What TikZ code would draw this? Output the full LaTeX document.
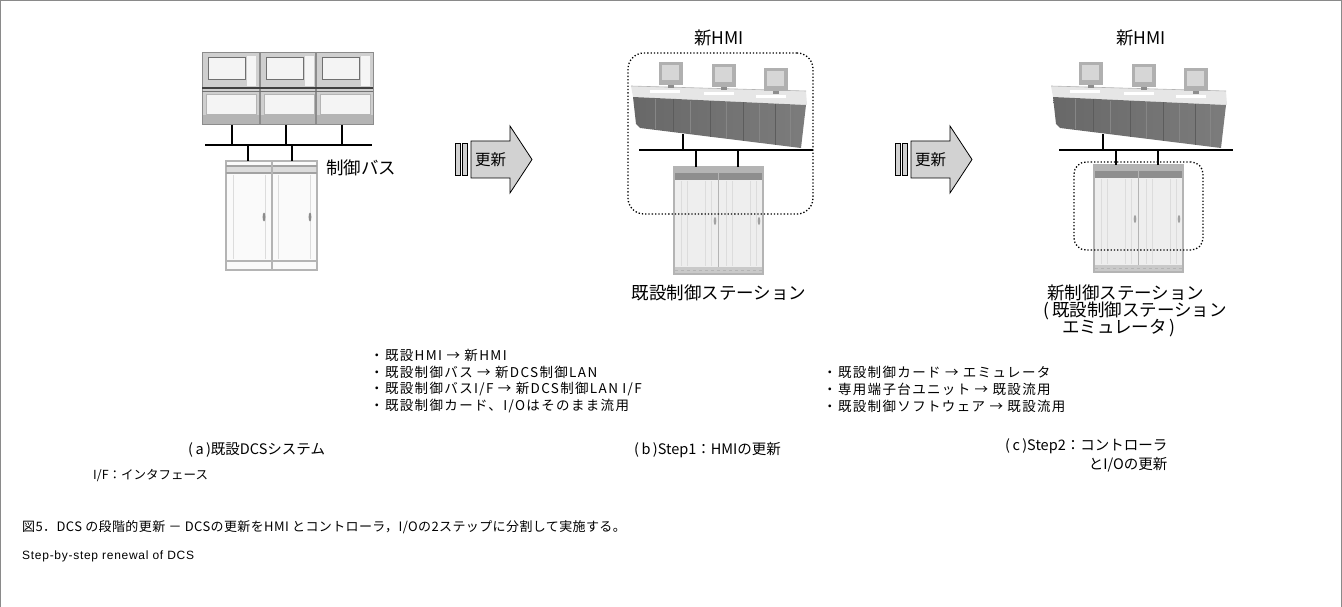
\documentclass[tikz,border=0pt]{standalone}
\usepackage{fontspec}
\setmainfont{Noto Sans CJK JP}
\newfontfamily\bulfamily[LetterSpace=10]{Noto Sans CJK JP}
\newfontfamily\widefamily[LetterSpace=3]{Noto Sans CJK JP}
\newfontfamily\latinwide[LetterSpace=6]{Liberation Sans}
\usetikzlibrary{calc}

\definecolor{framegray}{HTML}{8A8A8A}
\definecolor{arrowgray}{HTML}{D2D2D2}
\definecolor{panelgray}{HTML}{CFCFCF}
\definecolor{paneledge}{HTML}{8C8C8C}
\definecolor{screenlight}{HTML}{F4F4F4}
\definecolor{cabfill}{HTML}{EEEEEE}
\definecolor{cabedge}{HTML}{B4B4B4}
\definecolor{cabband}{HTML}{8E8E8E}
\definecolor{cabstripe}{HTML}{DCDCDC}
\definecolor{deskfront}{HTML}{7C7C7C}
\definecolor{deskdark}{HTML}{686868}
\definecolor{deskline}{HTML}{5C5C5C}
\definecolor{desktop}{HTML}{E6E6E6}
\definecolor{monitor}{HTML}{B0B0B0}
\definecolor{screen}{HTML}{D6D6D6}

\tikzset{
  box/.style={inner sep=0pt, outer sep=0pt},
  lbl/.style={inner sep=0pt, font=\fontsize{17.5}{20}\selectfont},
  bul/.style={inner sep=0pt, anchor=west, font=\bulfamily\fontsize{13.5}{16}\selectfont},
  capt/.style={inner sep=0pt, anchor=west, font=\fontsize{14.5}{17}\selectfont},
  remark/.style={inner sep=0pt, anchor=west, font=\fontsize{12.5}{15}\selectfont},
  bus/.style={line width=1.1pt, black},
  grp/.style={draw, dotted, line width=1.3pt},
  % renewal arrow: two bars, a body with text and a head
  renewarrow/.pic={
    \filldraw[fill=arrowgray, draw=black, line width=0.7pt] (0,17) rectangle (5,49);
    \filldraw[fill=arrowgray, draw=black, line width=0.7pt] (7,17) rectangle (12,49);
    \filldraw[fill=arrowgray, draw=black, line width=0.8pt]
      (16,15) -- (55,15) -- (55,0) -- (77,33.5) -- (55,67) -- (55,52) -- (16,52) -- cycle;
    \node[box, font=\fontsize{15.5}{17}\selectfont] (-txt) at (35.5,34) {更新};
  },
  % modern control station cabinet, origin at top-left corner
  cabinet/.pic={
    \node[box, minimum width=89pt, minimum height=107pt, anchor=north west] (-body) at (0,0) {};
    \filldraw[fill=cabfill, draw=cabedge, line width=1.5pt] (0,0) rectangle (89,107);
    \foreach \x in {7,13,31,37,52,58,76,82}
      \draw[cabstripe, line width=0.7pt] (\x,14) -- (\x,99);
    \fill[cabedge] (0.8,0.8) rectangle (88.2,6);
    \fill[cabband] (0.8,6) rectangle (88.2,13);
    \draw[cabedge, line width=1.6pt] (44.5,0) -- (44.5,107);
    \fill[cabstripe!80!gray] (0.8,100) rectangle (88.2,106.2);
    \draw[cabedge, dashed, line width=0.8pt] (1,103.2) -- (88,103.2);
    \fill[cabedge!90!black] (41,54) ellipse (1.3pt and 4pt);
    \fill[cabedge!90!black] (85,54) ellipse (1.3pt and 4pt);
  },
  % operator console, drawn at its middle-section place
  console/.pic={
    \fill[desktop] (631,86) -- (806,91) -- (807,105) -- (633,97) -- cycle;
    \draw[cabedge, line width=0.6pt] (631,86) -- (806,91);
    \shade[left color=deskdark, right color=deskfront]
      (633,97) -- (806,105) -- (801,148) -- (640,128) -- (636,124) -- cycle;
    \foreach \x in {673,710,743,775}
      \draw[deskline, line width=0.8pt] (\x,{97+(\x-633)*8/173}) -- (\x,{128+(\x-640)*20/161});
    \foreach \x in {655,690,726,759,790}
      \draw[deskdark!80!white, line width=0.4pt] (\x,{98+(\x-633)*8/173}) -- (\x,{127+(\x-640)*20/161});
    \foreach \x/\y in {650/90, 704/92, 756/95}
      \fill[white] (\x,\y) rectangle ++(30,3);
    \foreach \x/\y in {659/62, 712/64, 764/68} {
      \fill[monitor] (\x,\y) rectangle ++(24,23);
      \fill[screen] ({\x+3},{\y+3}) rectangle ++(17,15);
      \fill[monitor!80!black] ({\x+9},{\y+23}) rectangle ++(6,3);
    }
    \coordinate (-drop) at (683,134.5);
  }
}

\begin{document}
\begin{tikzpicture}[x=1pt,y=-1pt]
\useasboundingbox (0,0) rectangle (1342,607);
\draw[framegray, line width=1pt] (0.5,607) -- (0.5,0.5) -- (1341.5,0.5) -- (1341.5,607);

% ---------- (a) existing DCS ----------
\node[box, minimum width=171pt, minimum height=72pt] (aPanel) at (287.5,89) {};
\filldraw[fill=panelgray, draw=paneledge, line width=1pt] (202,53) rectangle (373,125);
\foreach \c in {202,260,316} {
  \fill[white!92!gray] ({\c+45},56) rectangle ({\c+54},86);
  \filldraw[fill=screenlight, draw=paneledge!80!black, line width=1pt] ({\c+6},58) rectangle ({\c+43},80);
  \filldraw[fill=screenlight, draw=cabedge, line width=0.8pt] ({\c+4},94) rectangle ({\c+54},114);
}
\fill[cabedge] (202.5,115) rectangle (372.5,124.5);
\draw[paneledge, line width=1.6pt] (260,53) -- (260,125) (316,53) -- (316,125);
\draw[black!75, line width=1.3pt] (202,88) -- (373,88);
\draw[black!55, line width=1pt] (202,91.5) -- (373,91.5);

\node[box, minimum width=91pt, minimum height=109pt] (aCab) at (271.5,215.5) {};
\filldraw[fill=white!96!gray, draw=cabedge, line width=2.4pt] (226,161) rectangle (317,270);
\fill[cabstripe] (227,166) rectangle (316,173);
\draw[cabedge!90!black, line width=1.3pt] (226,166) -- (317,166) (226,173) -- (317,173);
\draw[cabedge, line width=1.3pt] (226,261) -- (317,261);
\draw[cabedge, line width=2pt] (271.5,161) -- (271.5,270);
\foreach \x in {233,265,278,310}
  \draw[cabstripe, line width=0.6pt] (\x,175) -- (\x,259);
\fill[black!45] (264,217) ellipse (1.4pt and 4.5pt);
\fill[black!45] (310,217) ellipse (1.4pt and 4.5pt);

\coordinate (aBusW) at (205,145);
\coordinate (aBusE) at (372,145);
\coordinate (aT1) at (232,145);
\coordinate (aT2) at (286,145);
\coordinate (aT3) at (342,145);
\coordinate (aL1) at (248,145);
\coordinate (aL2) at (292,145);
\draw[bus] (aBusW) -- (aBusE);
\foreach \t in {aT1,aT2,aT3} \draw[bus] (aPanel.south -| \t) -- (\t);
\foreach \t in {aL1,aL2} \draw[bus] (\t) -- (\t |- aCab.north);
\node[lbl, anchor=west] (aBusLbl) at (326,168) {制御バス};

% ---------- renewal arrows ----------
\pic (arrA) at (455,126) {renewarrow};
\pic (arrB) at (895,126) {renewarrow};

% ---------- (b) Step 1 ----------
\node[lbl] (bHmiLbl) at (719,38) {新HMI};
\pic (bCon) at (0,0) {console};
\pic (bCab) at (674,167) {cabinet};
\coordinate (bBusW) at (639,150);
\coordinate (bBusE) at (813,150);
\coordinate (bL1) at (696,150);
\coordinate (bL2) at (738,150);
\draw[bus] (bBusW) -- (bBusE);
\draw[bus] (bCon-drop) -- (bCon-drop |- bBusW);
\foreach \t in {bL1,bL2} \draw[bus] (\t) -- (\t |- bCab-body.north);
\node[grp, rounded corners=16pt, minimum width=185pt, minimum height=161pt, box] (bGroup) at (720.5,133.5) {};
\node[lbl] (bStation) at (719,293) {既設制御ステーション};

% ---------- (c) Step 2 ----------
\node[lbl] (cHmiLbl) at (1141,38) {新HMI};
\pic (cCon) at (420,0) {console};
\pic (cCab) at (1094,165) {cabinet};
\coordinate (cBusW) at (1059,150);
\coordinate (cBusE) at (1233,150);
\coordinate (cL1) at (1116,150);
\coordinate (cL2) at (1158,150);
\draw[bus] (cBusW) -- (cBusE);
\draw[bus] (cCon-drop) -- (cCon-drop |- cBusW);
\foreach \t in {cL1,cL2} \draw[bus] (\t) -- (\t |- cCab-body.north);
\node[grp, rounded corners=12pt, minimum width=129pt, minimum height=88pt, box] (cGroup) at (1138.5,206) {};
\node[lbl, anchor=west] (cStation1) at (1047,293) {新制御ステーション};
\node[lbl, anchor=west] (cStation2) at (1043,311) {(\,既設制御ステーション};
\node[lbl, anchor=west] (cStation3) at (1062,328) {エミュレータ\,)};

% ---------- notes ----------
\node[bul] (bNote1) at (370,355) {・既設HMI → 新HMI};
\node[bul] (bNote2) at (370,372) {・既設制御バス → 新DCS制御LAN};
\node[bul] (bNote3) at (370,389) {・既設制御バスI/F → 新DCS制御LAN I/F};
\node[bul] (bNote4) at (370,406) {・既設制御カード、I/Oはそのまま流用};
\node[bul] (cNote1) at (823,372) {・既設制御カード → エミュレータ};
\node[bul] (cNote2) at (823,389) {・専用端子台ユニット → 既設流用};
\node[bul] (cNote3) at (823,406) {・既設制御ソフトウェア → 既設流用};

% ---------- captions ----------
\node[capt] (capA) at (188,450) {(\,a\,)既設DCSシステム};
\node[capt] (capB) at (634,450) {(\,b\,)Step1：HMIの更新};
\node[capt] (capC) at (1005,446) {(\,c\,)Step2：コントローラ};
\node[capt, anchor=east] (capC2) at ($(capC.east)+(0,19)$) {とI/Oの更新};
\node[remark] (ifNote) at (93,476) {I/F：インタフェース};

\node[remark, font=\widefamily\fontsize{13}{15}\selectfont] (figTitle) at (22,527)
  {図5．DCS の段階的更新 － DCSの更新をHMI とコントローラ，I/Oの2ステップに分割して実施する。};
\node[remark, font=\latinwide\fontsize{12}{15}\selectfont] (figTitleEn) at (22,556)
  {Step-by-step renewal of DCS};
\end{tikzpicture}
\end{document}
